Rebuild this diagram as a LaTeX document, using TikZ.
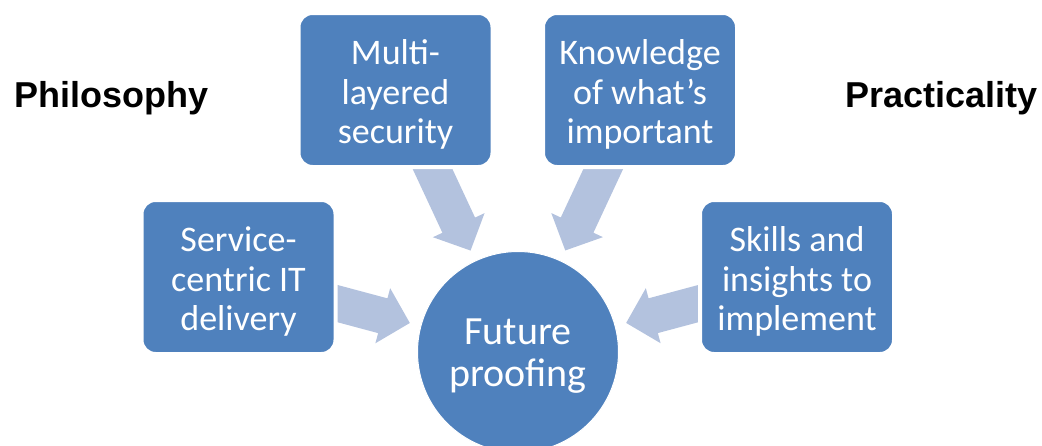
\documentclass[tikz,border=0pt]{standalone}
\usepackage{fontspec}
\setmainfont{Carlito}
\newfontfamily\labelfont{Liberation Sans}
\usetikzlibrary{calc,backgrounds}
\definecolor{boxblue}{RGB}{79,129,189}
\definecolor{arrowblue}{RGB}{179,194,222}
\newcommand\blockarrow[2]{%
  \fill[arrowblue, shift={(#1)}, rotate=#2]
    (0,0) -- (-28,28.5) -- (-28,18) -- (-175,18) -- (-175,-18) -- (-28,-18) -- (-28,-28.5) -- cycle;}
\newcommand\upstrut[1]{\rule{0pt}{#1}}
\begin{document}
\begin{tikzpicture}[x=1pt,y=-1pt,
  topic/.style={rectangle, rounded corners=14pt, fill=boxblue, draw=white, line width=4pt,
    minimum width=194pt, minimum height=154pt, inner sep=0pt, align=center, text=white,
    font=\fontsize{36}{39.5}\selectfont},
  hub/.style={circle, fill=boxblue, draw=white, line width=1pt, minimum size=201pt,
    inner sep=0pt, align=center, text=white, font=\fontsize{40}{42}\selectfont},
  side/.style={font=\labelfont\bfseries\fontsize{36}{40}\selectfont, anchor=base, inner sep=0pt}]
\useasboundingbox (0,0) rectangle (1042,445);
\node[side] (phil) at (111.5,107) {Philosophy};
\node[side] (prac) at (941.5,107) {Practicality};
\node[topic] (svc) at (238.5,277) {\upstrut{34pt}Service-\\centric IT\\delivery};
\node[topic] (sec) at (395.5,90) {\upstrut{34pt}Multi-\\layered\\security};
\node[topic] (know) at (640,90) {\upstrut{34pt}Knowledge\\of what’s\\important};
\node[topic] (skill) at (797,277) {\upstrut{34pt}Skills and\\insights to\\implement};
\node[hub] (hub) at (518,352) {\upstrut{34pt}Future\\proofing};
\coordinate (t1) at ($(hub.center)!112pt!(svc.center)$);
\coordinate (t2) at ($(hub.center)!112pt!(sec.center)$);
\coordinate (t3) at ($(hub.center)!112pt!(know.center)$);
\coordinate (t4) at ($(hub.center)!112pt!(skill.center)$);
\begin{scope}[on background layer]
\blockarrow{t1}{-15}
\blockarrow{t2}{-65}
\blockarrow{t3}{-115}
\blockarrow{t4}{-165}
\end{scope}
\end{tikzpicture}
\end{document}
